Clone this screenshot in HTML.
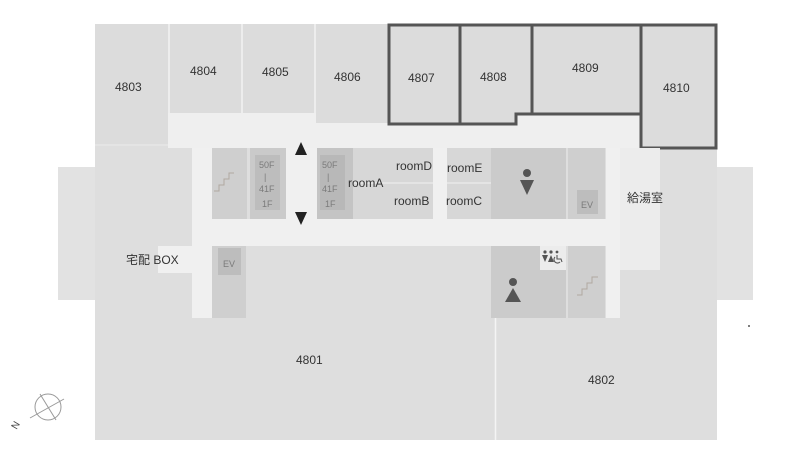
<!DOCTYPE html>
<html><head><meta charset="utf-8"><style>
html,body{margin:0;padding:0;background:#fff;}
svg{display:block;}
text{font-family:"Liberation Sans","Noto Sans CJK JP",sans-serif;fill:#333;}
</style></head><body>
<svg width="787" height="466" viewBox="0 0 787 466" xmlns="http://www.w3.org/2000/svg">
<rect x="58" y="167" width="40" height="133" fill="#e2e2e2"/>
<rect x="714" y="167" width="39" height="133" fill="#e2e2e2"/>
<rect x="95" y="24" width="622" height="416" fill="#dedede"/>
<rect x="95" y="24" width="73" height="121" fill="#dcdcdc"/>
<rect x="170" y="24" width="71" height="89" fill="#dcdcdc"/>
<rect x="243" y="24" width="71" height="89" fill="#dcdcdc"/>
<rect x="316" y="24" width="72" height="99" fill="#dcdcdc"/>
<g stroke="#f2f2f2" stroke-width="1.5">
<line x1="169" y1="24" x2="169" y2="113"/>
<line x1="242" y1="24" x2="242" y2="113"/>
<line x1="315" y1="24" x2="315" y2="123"/>
<line x1="95" y1="145" x2="168" y2="145" stroke="#e6e6e6"/>
</g>
<rect x="168" y="113" width="148" height="35" fill="#efefef"/>
<rect x="316" y="123" width="325" height="25" fill="#efefef"/>
<rect x="515" y="114" width="126" height="34" fill="#efefef"/>
<g fill="#dcdcdc" stroke="#555" stroke-width="3">
<rect x="389" y="25" width="71" height="99"/>
<path d="M460 25 H532 V114 H516 V124 H460 Z"/>
<rect x="532" y="25" width="109" height="89"/>
<rect x="641" y="25" width="75" height="123"/>
</g>
<rect x="192" y="148" width="20" height="170" fill="#f0f0f0"/>
<rect x="192" y="219" width="468" height="27" fill="#f0f0f0"/>
<rect x="606" y="148" width="14" height="170" fill="#f0f0f0"/>
<rect x="620" y="148" width="40" height="122" fill="#ececec"/>
<rect x="286" y="148" width="31" height="72" fill="#f0f0f0"/>
<rect x="433" y="148" width="14" height="72" fill="#f0f0f0"/>
<rect x="158" y="246" width="34" height="27" fill="#f0f0f0"/>
<rect x="212" y="148" width="35" height="71" fill="#cfcfcf"/>
<rect x="250" y="148" width="36" height="71" fill="#cacaca"/>
<rect x="255" y="155" width="25" height="55" fill="#bdbdbd"/>
<rect x="317" y="148" width="36" height="71" fill="#c4c4c4"/>
<rect x="320" y="155" width="25" height="55" fill="#b8b8b8"/>
<rect x="353" y="148" width="80" height="71" fill="#d7d7d7"/>
<line x1="353" y1="183" x2="433" y2="183" stroke="#e8e8e8" stroke-width="1.5"/>
<rect x="447" y="148" width="44" height="71" fill="#d7d7d7"/>
<line x1="447" y1="183" x2="491" y2="183" stroke="#e8e8e8" stroke-width="1.5"/>
<rect x="491" y="148" width="75" height="71" fill="#cbcbcb"/>
<rect x="568" y="148" width="37" height="71" fill="#cfcfcf"/>
<rect x="577" y="190" width="21" height="24" fill="#bdbdbd"/>
<rect x="212" y="246" width="34" height="72" fill="#cfcfcf"/>
<rect x="218" y="248" width="23" height="27" fill="#bdbdbd"/>
<rect x="491" y="246" width="75" height="72" fill="#cbcbcb"/>
<rect x="540" y="246" width="26" height="24" fill="#ececec"/>
<rect x="568" y="246" width="37" height="72" fill="#cfcfcf"/>
<polyline points="214,191 219,191 219,185 224,185 224,179 229,179 229,173 234,173" fill="none" stroke="#b0a8a0" stroke-width="1"/>
<polyline points="577,295 582,295 582,289 587,289 587,283 592,283 592,277 598,277" fill="none" stroke="#b0a8a0" stroke-width="1"/>
<polygon points="301,142 295,155 307,155" fill="#222"/>
<polygon points="301,225 295,212 307,212" fill="#222"/>
<circle cx="527" cy="173" r="4" fill="#555"/>
<polygon points="520,180 534,180 527,195" fill="#555"/>
<circle cx="513" cy="282" r="4" fill="#555"/>
<polygon points="513,288 505,302 521,302" fill="#555"/>
<!-- small toilet sign -->
<g fill="#555">
<circle cx="545" cy="252" r="1.6"/><polygon points="542,255 548,255 545,262"/>
<circle cx="551" cy="252" r="1.6"/><polygon points="551,255 548,262 554,262"/>
<circle cx="557" cy="252" r="1.4"/>
</g>
<path d="M557 255 V259 H561 L562 262 M555 257 A3.5 3.5 0 1 0 560 262" fill="none" stroke="#555" stroke-width="1.1"/>
<rect x="95" y="318" width="400" height="122" fill="#dedede"/>
<rect x="496" y="318" width="221" height="122" fill="#dedede"/>
<line x1="495.5" y1="318" x2="495.5" y2="440" stroke="#f4f4f4" stroke-width="1.5"/>
<g font-size="12">
<text x="115" y="91">4803</text>
<text x="190" y="75">4804</text>
<text x="262" y="76">4805</text>
<text x="334" y="81">4806</text>
<text x="408" y="82">4807</text>
<text x="480" y="81">4808</text>
<text x="572" y="72">4809</text>
<text x="663" y="92">4810</text>
<text x="296" y="364">4801</text>
<text x="588" y="384">4802</text>
<text x="396" y="170">roomD</text>
<text x="447" y="172">roomE</text>
<text x="348" y="187">roomA</text>
<text x="394" y="205">roomB</text>
<text x="446" y="205">roomC</text>
<text x="627" y="202">給湯室</text>
<text x="126" y="264">宅配 BOX</text>
</g>
<g font-size="9">
<text x="259" y="168" style="fill:#7a7a7a">50F</text><text x="264" y="180" style="fill:#7a7a7a">|</text>
<text x="259" y="192" style="fill:#7a7a7a">41F</text><text x="262" y="207" style="fill:#7a7a7a">1F</text>
<text x="322" y="168" style="fill:#7a7a7a">50F</text><text x="327" y="180" style="fill:#7a7a7a">|</text>
<text x="322" y="192" style="fill:#7a7a7a">41F</text><text x="325" y="207" style="fill:#7a7a7a">1F</text>
<text x="581" y="208" style="fill:#7a7a7a">EV</text>
<text x="223" y="267" style="fill:#7a7a7a">EV</text>
</g>
<g fill="none" stroke="#999" stroke-width="1">
<circle cx="48" cy="407" r="13"/>
<line x1="30" y1="418" x2="64" y2="399"/>
<line x1="40" y1="394" x2="56" y2="420"/>
</g>
<text x="12" y="428" font-size="10" transform="rotate(-60 16 425)" style="fill:#444">N</text>
<circle cx="749" cy="326" r="1" fill="#555"/>
</svg>
</body></html>
